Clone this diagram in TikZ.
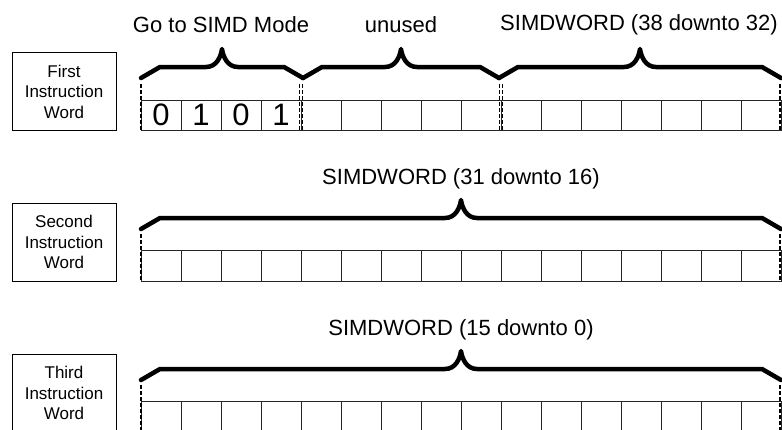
\documentclass[tikz,border=0pt]{standalone}
\usepackage{fontspec}
\setmainfont{Liberation Sans}
% curly field brace: #1 left x, #2 right x, #3 y of the two ends
\newcommand\fieldbrace[3]{%
  \draw[bracepen] (#1,#3) -- ({#1+19},{#3-11}) -- ({(#1+#2)/2-16},{#3-11})
    .. controls ({(#1+#2)/2-5},{#3-11}) and ({(#1+#2)/2-1},{#3-22}) .. ({(#1+#2)/2},{#3-29})
    .. controls ({(#1+#2)/2+1},{#3-22}) and ({(#1+#2)/2+5},{#3-11}) .. ({(#1+#2)/2+16},{#3-11})
    -- ({#2-19},{#3-11}) -- (#2,#3);}
\begin{document}
\begin{tikzpicture}[x=1pt,y=-1pt,
  cellbox/.style={draw=black!85, line width=0.9pt, minimum width=40pt,
    minimum height=#1, inner sep=0pt, outer sep=0pt, anchor=north west},
  cellbox/.default=30pt,
  wordbox/.style={draw, line width=0.9pt, minimum width=104pt, minimum height=78pt,
    inner sep=0pt, align=center, font=\fontsize{17}{20.5}\selectfont},
  fieldlabel/.style={inner sep=0pt, font=\fontsize{22}{26}\selectfont},
  digit/.style={inner sep=0pt, font=\fontsize{31}{33}\selectfont},
  bracepen/.style={line width=4.5pt, line join=round, line cap=round},
  sepline/.style={line width=1.3pt, dash pattern=on 4pt off 2pt},
]
\useasboundingbox (0,0) rectangle (782,429);

% word labels
\node[wordbox] (w1) at (64,91.5) {First\\Instruction\\Word};
\node[wordbox] (w2) at (64,242) {Second\\Instruction\\Word};
\node[wordbox] (w3) at (64,393) {Third\\Instruction\\Word};

% bit cells of the three instruction words
\foreach \i in {0,...,15} {
  \node[cellbox] (a\i) at ({141+40*\i},100) {};
  \node[cellbox=31pt] (b\i) at ({141+40*\i},250) {};
  \node[cellbox=40pt] (c\i) at ({141+40*\i},401) {};
}

% opcode bits
\node[digit] (d0) at (a0.center) {0};
\node[digit] (d1) at (a1.center) {1};
\node[digit] (d2) at (a2.center) {0};
\node[digit] (d3) at (a3.center) {1};

% field braces
\fieldbrace{141}{303}{78}
\fieldbrace{303}{499}{78}
\fieldbrace{499}{781}{78}
\fieldbrace{141}{781}{229}
\fieldbrace{141}{781}{380}

% field boundaries
\draw[sepline] (a0.north west) ++(0,-16) -- (a0.south west);
\draw[sepline] ([xshift=-1.2pt]a4.north west) ++(0,-16) -- ([xshift=-1.2pt]a4.south west);
\draw[sepline] ([xshift=1.2pt]a4.north west) ++(0,-16) -- ([xshift=1.2pt]a4.south west);
\draw[sepline] ([xshift=-1.2pt]a9.north west) ++(0,-16) -- ([xshift=-1.2pt]a9.south west);
\draw[sepline] ([xshift=1.2pt]a9.north west) ++(0,-16) -- ([xshift=1.2pt]a9.south west);
\draw[sepline, line width=2pt] ([xshift=-0.6pt]a15.north east) ++(0,-16) -- ([xshift=-0.6pt]a15.south east);
\draw[sepline] (b0.north west) ++(0,-16) -- (b0.south west);
\draw[sepline, line width=2pt] ([xshift=-0.6pt]b15.north east) ++(0,-16) -- ([xshift=-0.6pt]b15.south east);
\draw[sepline] (c0.north west) ++(0,-16) -- (c0.south west);
\draw[sepline, line width=2pt] ([xshift=-0.6pt]c15.north east) ++(0,-16) -- ([xshift=-0.6pt]c15.south east);

% field names
\node[fieldlabel] (f1) at (221,25) {Go to SIMD Mode};
\node[fieldlabel] (f2) at (401,25) {unused};
\node[fieldlabel] (f3) at (639,25) {SIMDWORD (38 downto 32)};
\node[fieldlabel] (f4) at (461,179) {SIMDWORD (31 downto 16)};
\node[fieldlabel] (f5) at (461,330) {SIMDWORD (15 downto 0)};
\end{tikzpicture}
\end{document}
